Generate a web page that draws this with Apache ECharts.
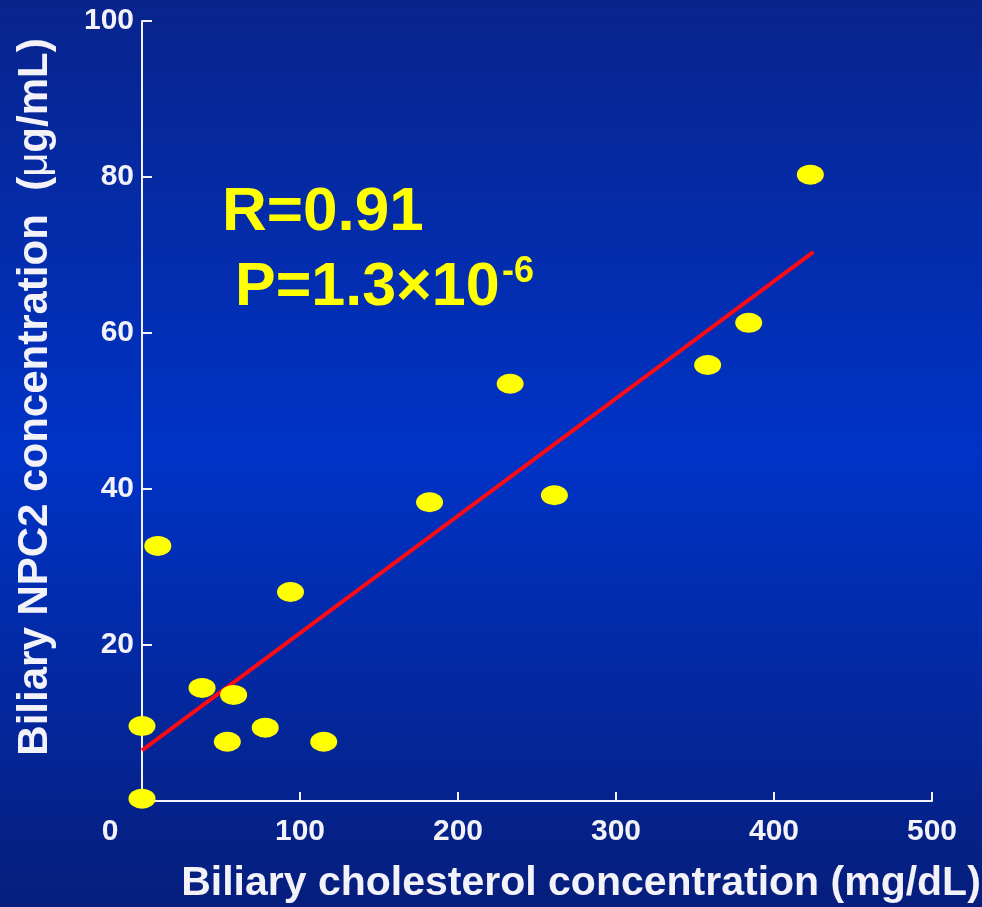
<!DOCTYPE html>
<html>
<head>
<meta charset="utf-8">
<script src="https://cdn.jsdelivr.net/npm/echarts@6/dist/echarts.min.js"></script>
<style>
  html, body { margin: 0; padding: 0; }
  #chart { width: 982px; height: 907px; }
</style>
</head>
<body>
<div id="chart"></div>
<script>
// biliary cholesterol (mg/dL) vs biliary NPC2 (ug/mL)
var cholesterol = [0, 0, 10, 38, 58, 54, 78, 115, 94, 182, 233, 261, 358, 384, 423];
var npc2 = [0.3, 9.6, 32.7, 14.5, 13.6, 7.6, 9.4, 7.6, 26.8, 38.3, 53.5, 39.2, 55.9, 61.3, 80.3];

// regression line end points
var fitX = [0, 425];
var fitY = [6.5, 70.4];

var xTicks = { min: 0, max: 500, step: 100 };
var yTicks = { min: 0, max: 100, step: 20 };

var font = 'Liberation Sans, Arial, sans-serif';
var white = '#f2f2f8';

var points = cholesterol.map(function (x, i) { return [x, npc2[i]]; });
var fit = fitX.map(function (x, i) { return [x, fitY[i]]; });

var chart = echarts.init(document.getElementById('chart'));

chart.setOption({
    backgroundColor: new echarts.graphic.LinearGradient(0, 0, 0, 1, [
        { offset: 0, color: '#08248c' },
        { offset: 0.5, color: '#0033c6' },
        { offset: 1, color: '#061e7c' }
    ]),
    animation: false,
    grid: { left: 142, top: 21, right: 50, bottom: 106, outerBoundsMode: 'none', containLabel: false },
    xAxis: {
        type: 'value',
        min: xTicks.min, max: xTicks.max, interval: xTicks.step,
        name: 'Biliary cholesterol concentration (mg/dL)',
        nameLocation: 'middle',
        nameGap: 62,
        nameTextStyle: { color: white, fontFamily: font, fontWeight: 'bold', fontSize: 41, padding: [0, 0, 0, 88] },
        axisLine: { lineStyle: { color: white, width: 2 } },
        axisTick: { inside: true, length: 9, lineStyle: { color: white, width: 2 } },
        axisLabel: { showMinLabel: false, color: white, fontFamily: font, fontWeight: 'bold', fontSize: 30, margin: 16 },
        splitLine: { show: false }
    },
    yAxis: {
        type: 'value',
        min: yTicks.min, max: yTicks.max, interval: yTicks.step,
        name: 'Biliary NPC2 concentration  ({m|μ}g/mL)',
        nameLocation: 'middle',
        nameGap: 86,
        nameTextStyle: {
            color: white, fontFamily: font, fontWeight: 'bold', fontSize: 42,
            padding: [0, 0, 0, 28],
            rich: { m: { color: white, fontFamily: font, fontWeight: 'normal', fontSize: 42 } }
        },
        axisLine: { lineStyle: { color: white, width: 2 } },
        axisTick: { inside: true, length: 10, lineStyle: { color: white, width: 2 } },
        axisLabel: { showMinLabel: false, color: white, fontFamily: font, fontWeight: 'bold', fontSize: 30, margin: 8 },
        splitLine: { show: false }
    },
    series: [
        {
            type: 'line',
            data: fit,
            symbol: 'none',
            lineStyle: { color: '#ff0a14', width: 4 },
            z: 2
        },
        {
            type: 'scatter',
            data: points,
            symbol: 'circle',
            symbolSize: [27, 20],
            clip: false,
            itemStyle: { color: '#ffff00', opacity: 1 },
            z: 3
        }
    ],
    graphic: [
        {
            type: 'text', x: 110, y: 832,
            style: { text: '0', fill: white, font: 'bold 30px ' + font, textAlign: 'center', textVerticalAlign: 'middle' }
        },
        {
            type: 'text', x: 222, y: 213,
            style: { text: 'R=0.91', fill: '#ffff00', font: 'bold 62px ' + font, textAlign: 'left', textVerticalAlign: 'middle' }
        },
        {
            type: 'text', x: 235, y: 288,
            style: { text: 'P=1.3×10', fill: '#ffff00', font: 'bold 61px ' + font, textAlign: 'left', textVerticalAlign: 'middle' }
        },
        {
            type: 'text', x: 502, y: 272,
            style: { text: '-6', fill: '#ffff00', font: 'bold 36px ' + font, textAlign: 'left', textVerticalAlign: 'middle' }
        }
    ]
});
</script>
</body>
</html>
